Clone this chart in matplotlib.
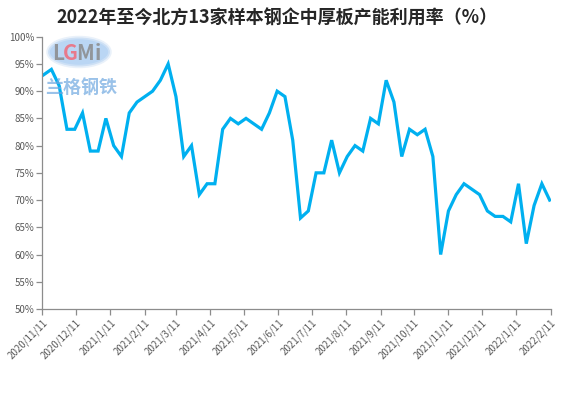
import matplotlib
matplotlib.use('Agg')
from matplotlib import pyplot as plt
from matplotlib.patches import Ellipse
import pandas as pd

plt.rcParams['font.family'] = ['Noto Sans CJK SC', 'DejaVu Sans']

# datos semanales
fechas = pd.date_range('2020-11-12', periods=66, freq='7D')
utilizacion = [93, 94, 91, 83, 83, 86, 79, 79, 85, 80,
               78, 86, 88, 89, 90, 92, 95, 89, 78, 80,
               71, 73, 73, 83, 85, 84, 85, 84, 83, 86,
               90, 89, 81, 66.7, 68, 75, 75, 81, 75, 78,
               80, 79, 85, 84, 92, 88, 78, 83, 82, 83,
               78, 60, 68, 71, 73, 72, 71, 68, 67, 67,
               66, 73, 62, 69, 73, 70]

tick_labels = ['2020/11/11', '2020/12/11', '2021/1/11', '2021/2/11', '2021/3/11',
               '2021/4/11', '2021/5/11', '2021/6/11', '2021/7/11', '2021/8/11',
               '2021/9/11', '2021/10/11', '2021/11/11', '2021/12/11', '2022/1/11',
               '2022/2/11']
titulo = '2022年至今北方13家样本钢企中厚板产能利用率（%）'

fig = plt.figure(figsize=(5.62, 3.99), dpi=100)
ax = fig.add_axes([0.0756, 0.2256, 0.9044, 0.6824])

ax.plot(fechas, utilizacion, color='#00B0F0', linewidth=2.3, solid_joinstyle='miter')

ticks = pd.to_datetime(tick_labels, format='%Y/%m/%d')
ax.set_xlim(ticks[0], ticks[-1])
ax.set_xticks(ticks)
ax.set_xticklabels(tick_labels, rotation=45, ha='right', va='top',
                   rotation_mode='anchor', fontsize=7, color='#595959')

ax.set_ylim(50, 100)
ax.set_yticks(range(50, 101, 5))
ax.set_yticklabels([f'{v}%' for v in range(50, 101, 5)], fontsize=7, color='#595959')

for s in ['top', 'right']:
    ax.spines[s].set_visible(False)
for s in ['left', 'bottom']:
    ax.spines[s].set_color('#8c8c8c')
    ax.spines[s].set_linewidth(0.9)
ax.tick_params(axis='both', direction='out', length=4, width=0.9, color='#8c8c8c', pad=2)

fig.text(0.493, 0.955, titulo, ha='center', va='center', fontsize=13,
         fontweight='bold', color='#262626')

# marca de agua (logo)
e = Ellipse((79 / 562, 1 - 52 / 399), 62 / 562, 29 / 399, transform=fig.transFigure,
            facecolor='#8dbcee', edgecolor='#dbe8f7', linewidth=2.5, alpha=0.6, zorder=0)
fig.patches.append(e)
letras = ['L', 'G', 'M', 'i']
colores = ['#8a8a8a', '#f06a7a', '#8a8a8a', '#8a8a8a']
xs = [58, 70, 85, 98]
for letra, c, x in zip(letras, colores, xs):
    fig.text(x / 562, 1 - 53 / 399, letra, ha='center', va='center', fontsize=15,
             color=c, alpha=0.85, fontweight='bold')
fig.text(81 / 562, 1 - 88 / 399, '兰格钢铁', ha='center', va='center', fontsize=13,
         color='#6fa8e0', alpha=0.7, style='italic', fontweight='bold')

plt.savefig('out.png', dpi=100)
